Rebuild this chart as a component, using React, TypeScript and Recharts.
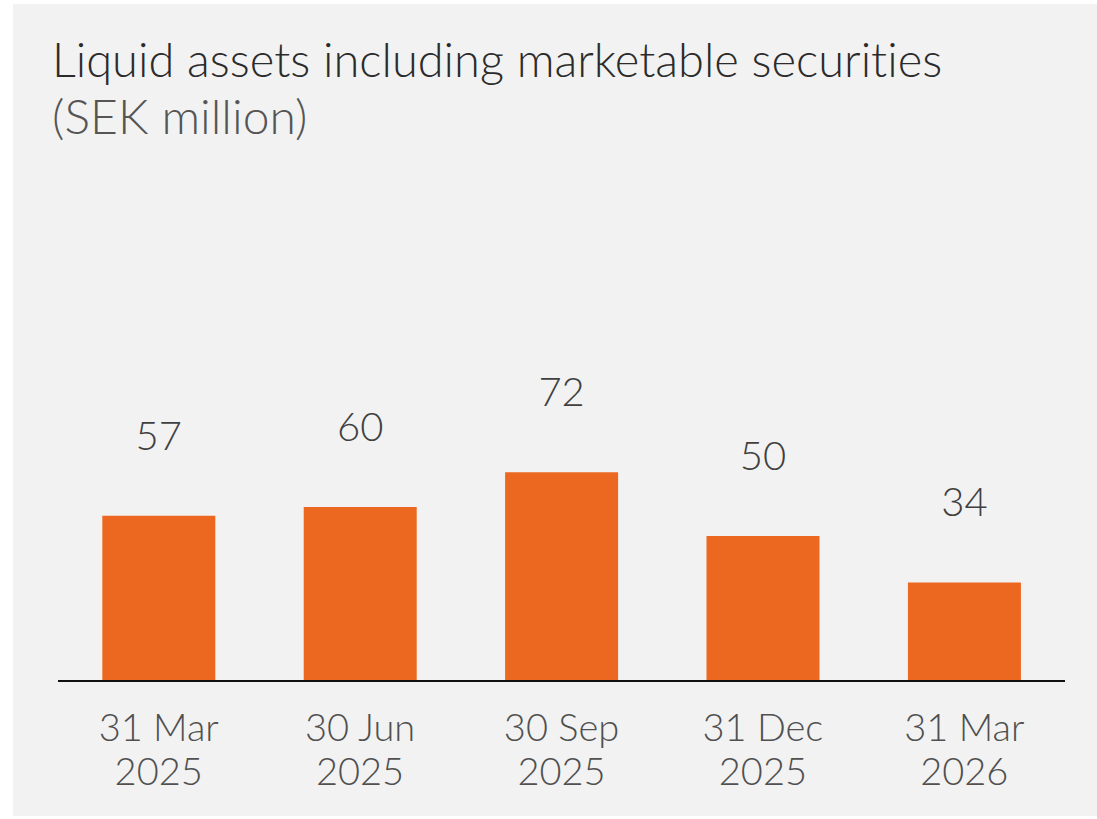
import { BarChart, Bar, XAxis, YAxis, LabelList } from "recharts";

const DATES = ["31 Mar|2025", "30 Jun|2025", "30 Sep|2025", "31 Dec|2025", "31 Mar|2026"];
const LIQUID_ASSETS = [57, 60, 72, 50, 34];

const ORANGE = "#EC671F";
const FONT = "Lato, 'Noto Sans', sans-serif";

const data = DATES.map((d, i) => ({ date: d, value: LIQUID_ASSETS[i] }));

const DateTick = (props: any) => {
  const { x, y, payload } = props;
  const [line1, line2] = String(payload.value).split("|");
  return (
    <text
      x={x}
      y={y}
      textAnchor="middle"
      fill="#505050"
      fontSize={38}
      fontWeight={300}
      fontFamily={FONT}
    >
      <tspan x={x} dy={52}>{line1}</tspan>
      <tspan x={x} dy={44}>{line2}</tspan>
    </text>
  );
};

const ValueLabel = (props: any) => {
  const { x, y, width, value } = props;
  return (
    <text
      x={x + width / 2}
      y={y - 66}
      textAnchor="middle"
      fill="#404040"
      fontSize={40}
      fontWeight={300}
      fontFamily={FONT}
    >
      {value}
    </text>
  );
};

const App = () => {
  return (
    <div
      style={{
        position: "absolute",
        left: 13,
        top: 4,
        width: 1084,
        height: 812,
        background: "#F2F2F2",
      }}
    >
      <svg
        width={1084}
        height={140}
        style={{ position: "absolute", left: 0, top: 0, fontVariantLigatures: "none" }}
      >
        <text x={39} y={73} fill="#2b2b2b" fontSize={47} fontWeight={300} fontFamily={FONT}>
          Liquid assets including marketable securities
        </text>
        <text x={39} y={130} fill="#555" fontSize={48} fontWeight={300} fontFamily={FONT}>
          (SEK million)
        </text>
      </svg>
      <div style={{ position: "absolute", left: 0, top: 0 }}>
        <BarChart
          width={1084}
          height={812}
          data={data}
          margin={{ top: 387, right: 32, bottom: 35, left: 45 }}
          barCategoryGap="22%"
        >
          <XAxis
            dataKey="date"
            axisLine={{ stroke: "#111", strokeWidth: 2 }}
            tickLine={false}
            tick={<DateTick />}
            height={100}
            interval={0}
          />
          <YAxis hide domain={[0, 100]} />
          <Bar dataKey="value" fill={ORANGE} isAnimationActive={false}>
            <LabelList dataKey="value" content={<ValueLabel />} />
          </Bar>
        </BarChart>
      </div>
    </div>
  );
};

export default App;
